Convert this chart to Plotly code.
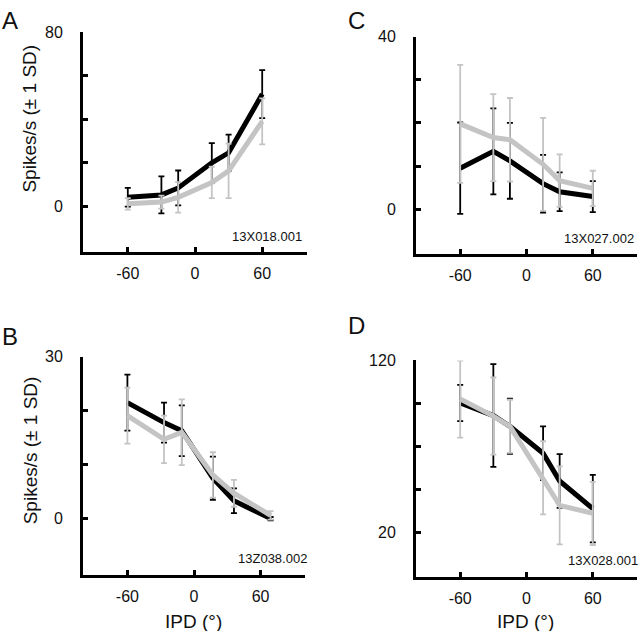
import plotly.graph_objects as go

# ---------------- data ----------------
ipd_A = [-60, -30, -15, 15, 30, 60]
black_A = [4.2, 5.3, 8.5, 20, 24.6, 51.5]
black_A_sd = [4.3, 8.5, 8.0, 9.0, 8.3, 11.0]
gray_A = [1.2, 2.0, 4.2, 11.0, 16.3, 39.0]
gray_A_sd = [2.6, 3.0, 7.0, 7.2, 12.5, 10.5]

ipd_B = [-60, -27, -11, 17, 36, 69]
black_B = [21.5, 17.8, 16.3, 7.5, 3.3, 0.0]
black_B_sd = [5.2, 3.7, 4.7, 4.0, 2.3, 0.3]
gray_B = [19.1, 14.7, 16.0, 8.1, 4.7, 0.6]
gray_B_sd = [5.2, 4.4, 6.1, 4.2, 2.5, 0.8]

ipd_C = [-60, -30, -15, 15, 30, 60]
black_C = [9.5, 13.4, 11.2, 5.9, 4.0, 2.9]
black_C_sd = [10.6, 10.0, 8.8, 6.7, 4.5, 3.6]
gray_C = [19.8, 16.6, 16.1, 10.4, 6.6, 4.8]
gray_C_sd = [13.7, 10.1, 9.7, 10.8, 6.1, 4.1]

ipd_D = [-60, -30, -15, 15, 30, 60]
black_D = [95.3, 88.0, 81.7, 66.0, 49.8, 33.7]
black_D_sd = [10.6, 30.0, 16.1, 15.7, 15.7, 19.7]
gray_D = [97.6, 87.7, 81.7, 51.7, 35.6, 30.9]
gray_D_sd = [22.5, 22.5, 15.5, 21.3, 22.8, 18.4]

labels = ["A", "B", "C", "D"]
unit_ids = ["13X018.001", "13Z038.002", "13X027.002", "13X028.001"]
y_ticks = {
    "A": [0, 20, 40, 60, 80],
    "B": [0, 10, 20, 30],
    "C": [0, 10, 20, 30, 40],
    "D": [20, 45, 70, 95, 120],
}
x_ticks = [-60, 0, 60]
y_title = "Spikes/s (± 1 SD)"
x_title = "IPD (°)"

panels = {
    "A": (ipd_A, black_A, black_A_sd, gray_A, gray_A_sd),
    "B": (ipd_B, black_B, black_B_sd, gray_B, gray_B_sd),
    "C": (ipd_C, black_C, black_C_sd, gray_C, gray_C_sd),
    "D": (ipd_D, black_D, black_D_sd, gray_D, gray_D_sd),
}

# ---------------- layout geometry (window pixels) ----------------
W, H = 640, 631


def px(x):
    return x / W


def py(y):
    return 1 - y / H


geom = {  # x0, x1, ytop, ybottom
    "A": (83, 307, 24, 247),
    "C": (416, 637, 29, 249),
    "B": (83, 305, 353, 574),
    "D": (416, 637, 357, 576),
}
axis_idx = {"A": "", "B": "2", "C": "3", "D": "4"}

FONT = "Liberation Sans, Arial, Helvetica, sans-serif"
TXT = "#111111"
BLACK = "#000000"
GRAY = "#c4c4c4"

fig = go.Figure()
layout = dict(
    width=W, height=H,
    margin=dict(l=0, r=0, t=0, b=0),
    paper_bgcolor="white", plot_bgcolor="white",
    showlegend=False,
    font=dict(family=FONT, size=16, color=TXT),
)
annotations = []

for key in ["A", "B", "C", "D"]:
    ipd, bm, bsd, gm, gsd = panels[key]
    i = axis_idx[key]
    xa, ya = "x" + i, "y" + i
    fig.add_trace(go.Scatter(
        x=ipd, y=bm, mode="lines", xaxis=xa, yaxis=ya,
        line=dict(color=BLACK, width=5),
        error_y=dict(type="data", array=bsd, visible=True, color=BLACK,
                     thickness=1.8, width=3),
    ))
    fig.add_trace(go.Scatter(
        x=ipd, y=gm, mode="lines", xaxis=xa, yaxis=ya,
        line=dict(color=GRAY, width=5),
        error_y=dict(type="data", array=gsd, visible=True, color=GRAY,
                     thickness=1.8, width=3),
    ))

    x0, x1, yt, yb = geom[key]
    yt_vals = y_ticks[key]
    step = yt_vals[1] - yt_vals[0]
    ymax = yt_vals[-1]
    ymin = yt_vals[0] - step * 1.04
    ticktext = [str(yt_vals[0])] + [""] * (len(yt_vals) - 2) + [str(yt_vals[-1])]

    layout["xaxis" + i] = dict(
        domain=[px(x0), px(x1)], anchor=ya, range=[-100, 100],
        tickvals=x_ticks, ticktext=[str(v) for v in x_ticks],
        ticks="inside", ticklen=5, tickwidth=3, tickcolor=BLACK,
        showline=True, linewidth=3, linecolor=BLACK,
        showgrid=False, zeroline=False, ticklabelstandoff=5,
        tickfont=dict(family=FONT, size=16, color=TXT),
    )
    layout["yaxis" + i] = dict(
        domain=[py(yb), py(yt)], anchor=xa, range=[ymin, ymax + step * 0.005],
        tickvals=yt_vals, ticktext=ticktext,
        ticks="inside", ticklen=5, tickwidth=3, tickcolor=BLACK,
        showline=True, linewidth=3, linecolor=BLACK,
        showgrid=False, zeroline=False, ticklabelstandoff=14,
        tickfont=dict(family=FONT, size=16, color=TXT),
    )
    annotations.append(dict(
        text=unit_ids[labels.index(key)], xref="paper", yref="paper",
        x=px({"A": 304, "B": 309, "C": 636, "D": 640}[key]),
        y=py(yb - 16), xanchor="right", yanchor="middle",
        showarrow=False, font=dict(family=FONT, size=13, color=TXT),
    ))

# panel letters
for key, (lx, ly) in {"A": (10, 13), "C": (356, 13), "B": (10, 333), "D": (356, 322)}.items():
    annotations.append(dict(
        text=key, xref="paper", yref="paper", x=px(lx), y=py(ly),
        xanchor="center", yanchor="middle", showarrow=False,
        font=dict(family=FONT, size=24, color=TXT),
    ))

# y titles
for cy in [112, 448]:
    annotations.append(dict(
        text=y_title, xref="paper", yref="paper", x=px(30), y=py(cy),
        xanchor="center", yanchor="middle", textangle=-90, showarrow=False,
        font=dict(family=FONT, size=19, color=TXT),
    ))
# x titles
for cx in [193, 525]:
    annotations.append(dict(
        text=x_title, xref="paper", yref="paper", x=px(cx), y=py(621),
        xanchor="center", yanchor="middle", showarrow=False,
        font=dict(family=FONT, size=19, color=TXT),
    ))

layout["annotations"] = annotations
fig.update_layout(**layout)
# remove the default 8px page margin so the figure fills the window exactly
fig.write_html(
    "out.html",
    config={"displayModeBar": False},
    post_script="document.body.style.margin='0px';document.body.style.overflow='hidden';",
)
